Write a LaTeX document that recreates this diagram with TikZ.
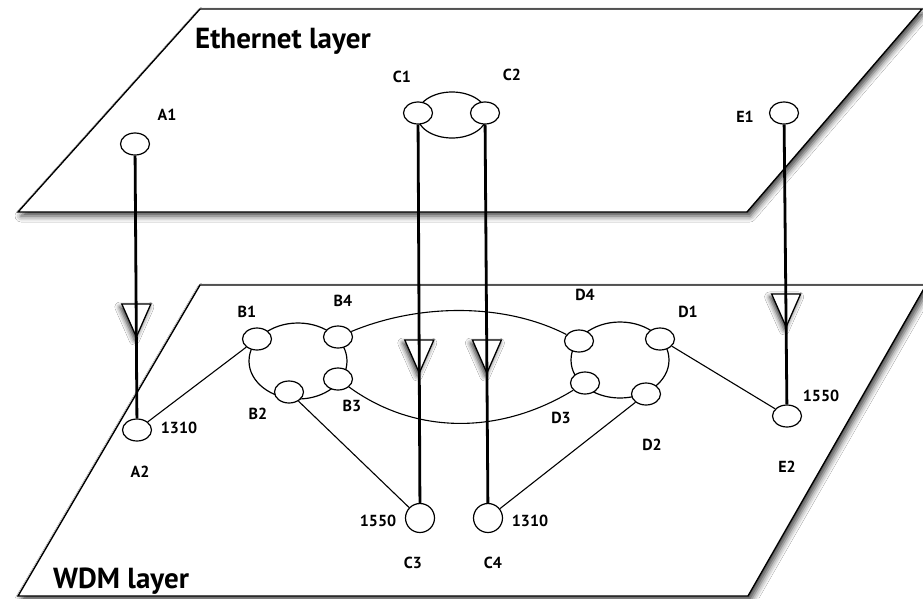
\documentclass[tikz,border=0pt]{standalone}
\usepackage{fontspec}
\setmainfont{PT Sans}
\usetikzlibrary{shapes.geometric,shadows.blur,calc}
\begin{document}
\begin{tikzpicture}[x=1pt,y=-1pt,
  plane/.style={draw, line width=1.4pt, fill=white, line join=miter,
    blur shadow={shadow xshift=3pt, shadow yshift=-4pt, shadow blur radius=6pt, shadow opacity=75}},
  nd/.style={ellipse, draw, fill=white, line width=1.2pt, minimum width=29pt, minimum height=22pt, inner sep=0pt},
  cnd/.style={circle, draw, fill=white, line width=1.2pt, minimum size=29pt, inner sep=0pt},
  grp/.style={ellipse, draw, line width=1.2pt, inner sep=0pt},
  lbl/.style={font=\bfseries\fontsize{16}{16}\selectfont, inner sep=0pt},
  big/.style={font=\bfseries\fontsize{29}{29}\selectfont, inner sep=0pt},
  link/.style={line width=1.1pt},
  trunk/.style={line width=2.8pt},
  tri/.style={line width=1.3pt, fill=white, line join=miter,
    blur shadow={shadow xshift=-2pt, shadow yshift=-3pt, shadow blur radius=5pt, shadow opacity=80}}
]
\useasboundingbox (0,0) rectangle (923,598);
\fill[white] (0,0) rectangle (923,598);

% planes
\draw[plane] (200,9) -- (922,9) -- (747,212) -- (18,212) -- cycle;
\draw[plane] (200,285) -- (926,285) -- (748,596) -- (18,596) -- cycle;
\node[big, anchor=base west] (eth) at (195,48) {Ethernet layer};
\node[big, anchor=base west] (wdm) at (53,588) {WDM layer};

% group ellipses
\node[grp, minimum width=70pt, minimum height=46pt] (Cg) at (452,115) {};
\node[grp, minimum width=98pt, minimum height=76pt] (Bg) at (298,361) {};
\node[grp, minimum width=98pt, minimum height=76pt] (Dg) at (620,360) {};

% nodes
\node[nd] (A1) at (135,144) {};
\node[nd] (A2) at (137,430) {};
\node[nd] (C1) at (418,113) {};
\node[nd] (C2) at (485,113) {};
\node[nd] (E1) at (784,113) {};
\node[nd] (E2) at (787,416) {};
\node[nd] (B1) at (257,339) {};
\node[nd] (B4) at (338,337) {};
\node[nd] (B3) at (338,379) {};
\node[nd] (B2) at (289,392) {};
\node[nd] (D4) at (579,341) {};
\node[nd] (D1) at (660,339) {};
\node[nd] (D3) at (585,383) {};
\node[nd] (D2) at (646,394) {};
\node[cnd] (C3) at (420,518) {};
\node[cnd] (C4) at (488,518) {};

% thin links
\draw[link] (A2) -- (B1);
\draw[link] (B2) -- (C3);
\draw[link] (D2) -- (C4);
\draw[link] (D1) -- (E2);
\draw[link] (B4) .. controls (420,303) and (505,303) .. (D4);
\draw[link] (B3) .. controls (415,435) and (500,435) .. (D3);

% open arrowheads (tips on the trunks)
\coordinate (tA) at ($(A1)!0.675!(A2)$);
\coordinate (tC) at ($(C1)!0.642!(C3)$);
\coordinate (tD) at ($(C2)!0.642!(C4)$);
\coordinate (tE) at ($(E1)!0.706!(E2)$);
\foreach \t in {tA,tC,tD,tE}
  \draw[tri] (\t) -- ++(-14.5,-33) -- ++(29,0) -- cycle;

% trunks
\draw[trunk] (A1) -- (A2);
\draw[trunk] (C1) -- (C3);
\draw[trunk] (C2) -- (C4);
\draw[trunk] (E1) -- (E2);

% labels
\node[lbl] (lA1) at (167,115) {A1};
\node[lbl] (lC1) at (402,77) {C1};
\node[lbl] (lC2) at (512,75) {C2};
\node[lbl] (lE1) at (745,117) {E1};
\node[lbl] (lA2w) at (179,428) {1310};
\node[lbl] (lA2) at (140,472) {A2};
\node[lbl] (lB1) at (247,312) {B1};
\node[lbl] (lB4) at (343,301) {B4};
\node[lbl] (lB3) at (352,406) {B3};
\node[lbl] (lB2) at (258,414) {B2};
\node[lbl] (lD4) at (585,295) {D4};
\node[lbl] (lD1) at (688,312) {D1};
\node[lbl] (lD3) at (561,418) {D3};
\node[lbl] (lD2) at (652,445) {D2};
\node[lbl] (lE2w) at (821,396) {1550};
\node[lbl] (lE2) at (787,467) {E2};
\node[lbl] (lC3w) at (378,521) {1550};
\node[lbl] (lC4w) at (530,521) {1310};
\node[lbl] (lC3) at (413,563) {C3};
\node[lbl] (lC4) at (493,563) {C4};
\end{tikzpicture}
\end{document}
